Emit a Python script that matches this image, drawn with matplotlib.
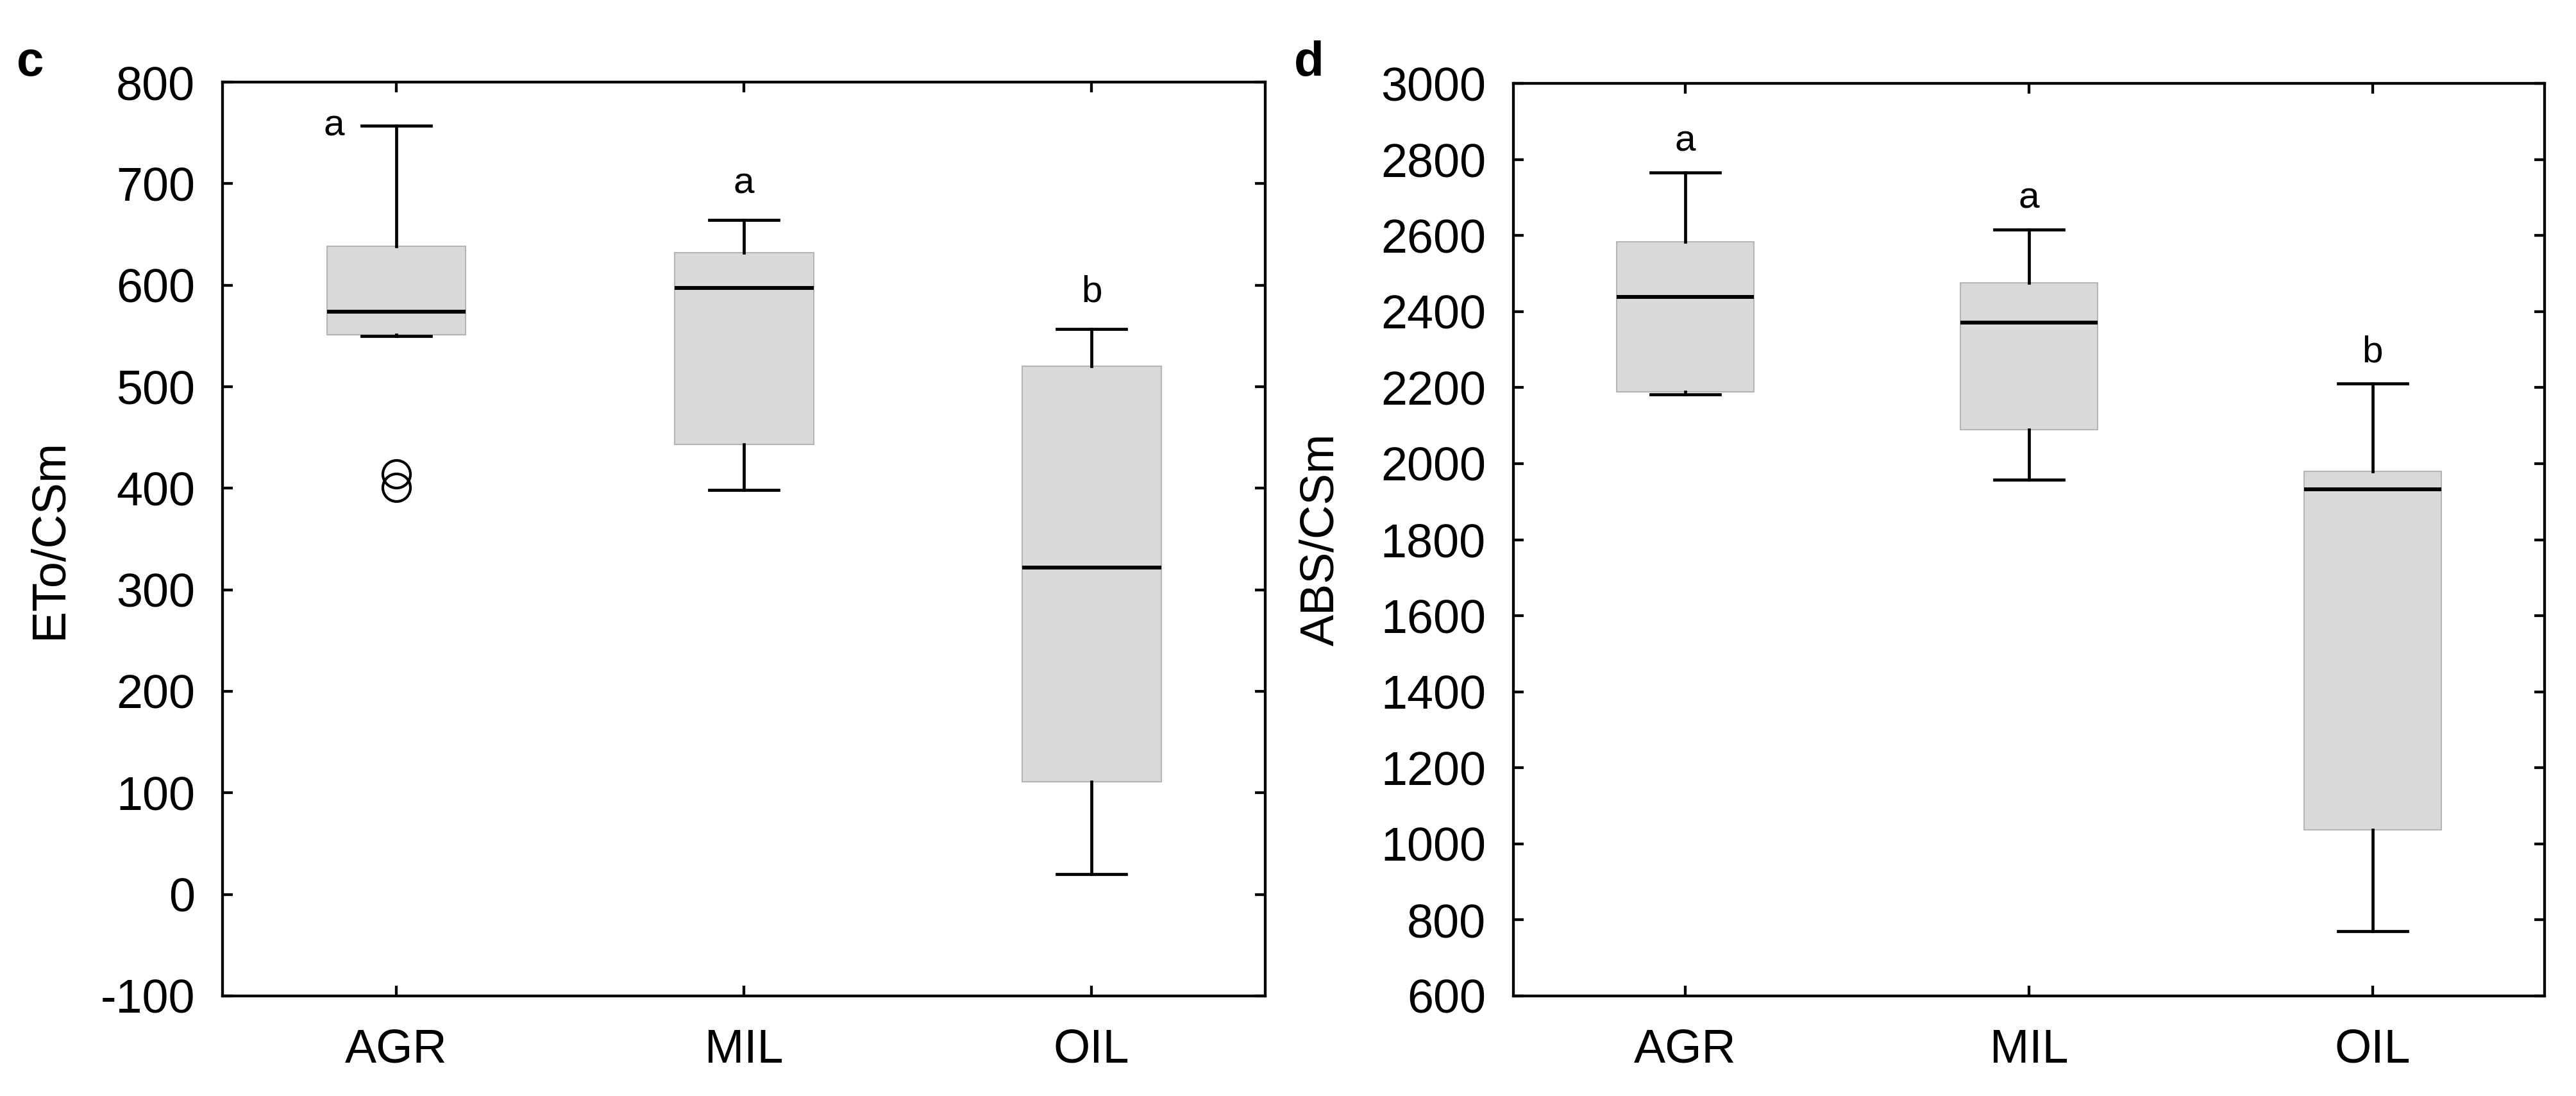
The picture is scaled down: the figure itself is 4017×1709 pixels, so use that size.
import numpy as np
import matplotlib.pyplot as plt

plt.rcParams['font.family'] = ['Liberation Sans', 'DejaVu Sans']
plt.rcParams['axes.unicode_minus'] = False

groups = ['AGR', 'MIL', 'OIL']

# panel c: ETo/CSm
eto_whislo = [550, 398, 20]
eto_q1 = [551, 443, 111]
eto_med = [574, 597, 322]
eto_q3 = [638, 632, 520]
eto_whishi = [757, 664, 557]
eto_fliers = [[414, 401], [], []]
eto_letters = ['a', 'a', 'b']

# panel d: ABS/CSm
abs_whislo = [2182, 1957, 771]
abs_q1 = [2189, 2090, 1036]
abs_med = [2439, 2371, 1932]
abs_q3 = [2584, 2476, 1979]
abs_whishi = [2765, 2615, 2211]
abs_fliers = [[], [], []]
abs_letters = ['a', 'a', 'b']

fig = plt.figure(figsize=(40.17, 17.09), dpi=100)
ax1 = fig.add_axes([0.0864, 0.0913, 0.4048, 0.8338])
ax2 = fig.add_axes([0.5875, 0.0913, 0.4003, 0.8326])


def draw_panel(ax, lo, q1, med, q3, hi, fliers):
    stats = []
    for g, a, b, c, d, e, f in zip(groups, lo, q1, med, q3, hi, fliers):
        stats.append(dict(label=g, whislo=a, q1=b, med=c, q3=d, whishi=e, fliers=f))
    ax.bxp(stats, positions=[1, 2, 3], widths=0.4, capwidths=0.2,
           patch_artist=True,
           boxprops=dict(facecolor='#d9d9d9', edgecolor='#b5b5b5', linewidth=1.5),
           medianprops=dict(color='black', linewidth=4.3),
           whiskerprops=dict(color='black', linewidth=3.4),
           capprops=dict(color='black', linewidth=3.4),
           flierprops=dict(marker='o', markerfacecolor='none', markeredgecolor='black',
                           markersize=31, markeredgewidth=3))
    ax.set_xlim(0.5, 3.5)
    for s in ax.spines.values():
        s.set_linewidth(3.1)
    ax.tick_params(direction='in', length=11.5, width=3.1, top=True, right=True,
                   labelsize=53)
    ax.tick_params(axis='y', pad=31)
    ax.tick_params(axis='x', pad=36)


draw_panel(ax1, eto_whislo, eto_q1, eto_med, eto_q3, eto_whishi, eto_fliers)
ax1.set_ylim(-100, 800)
ax1.set_yticks(np.arange(-100, 801, 100))
ax1.set_ylabel('ETo/CSm', fontsize=53)
ax1.yaxis.set_label_coords(-0.145, 0.5)

draw_panel(ax2, abs_whislo, abs_q1, abs_med, abs_q3, abs_whishi, abs_fliers)
ax2.set_ylim(600, 3000)
ax2.set_yticks(np.arange(600, 3001, 200))
ax2.set_ylabel('ABS/CSm', fontsize=53)
ax2.yaxis.set_label_coords(-0.165, 0.5)

# significance letters
ax1.text(0.82, eto_whishi[0], eto_letters[0], fontsize=42, ha='center', va='center')
for i in (1, 2):
    ax1.text(i + 1, eto_whishi[i] + 36, eto_letters[i], fontsize=42, ha='center', va='center')
for i in range(3):
    ax2.text(i + 1, abs_whishi[i] + 82, abs_letters[i], fontsize=42, ha='center', va='center')

fig.text(47 / 4017, 1 - 118 / 1709, 'c', fontsize=55, fontweight='bold', ha='center', va='baseline')
fig.text(2041 / 4017, 1 - 118 / 1709, 'd', fontsize=55, fontweight='bold', ha='center', va='baseline')

fig.savefig('out.png', dpi=100)
